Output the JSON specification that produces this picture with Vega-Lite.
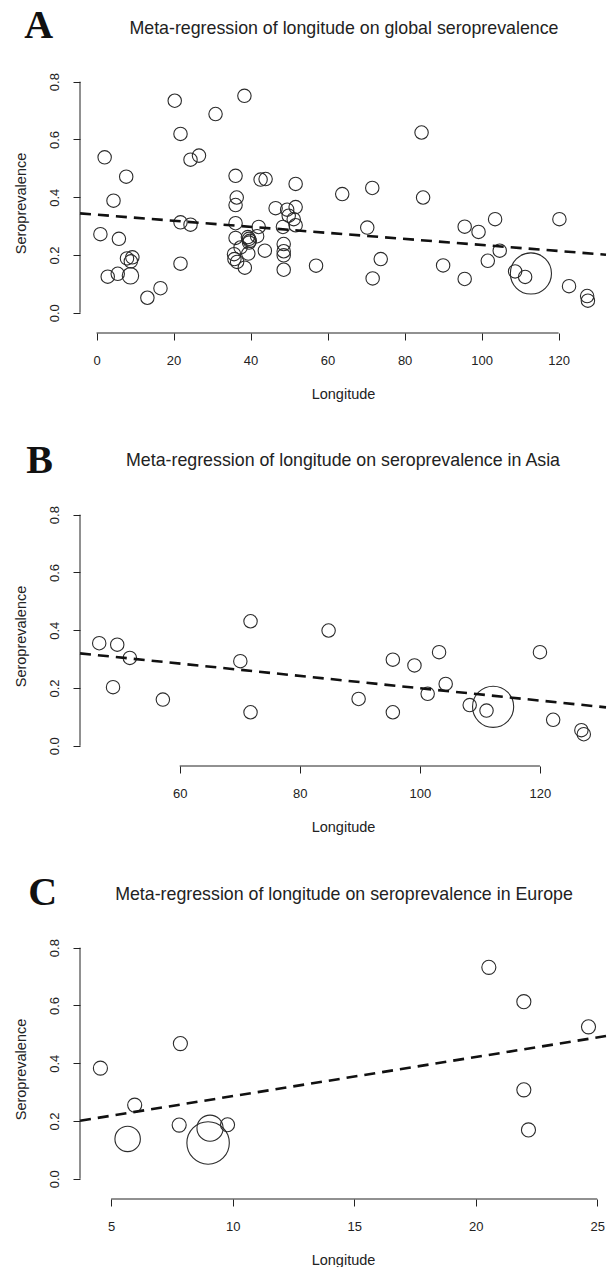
{
  "$schema": "https://vega.github.io/schema/vega-lite/v6.json",
  "background": "white",
  "padding": {"left": 12, "top": 5, "right": 0, "bottom": 0},
  "spacing": 39,
  "config": {
    "view": {"stroke": null},
    "font": "Liberation Sans",
    "axis": {
      "grid": false,
      "domain": false,
      "ticks": true,
      "tickSize": 7,
      "tickColor": "#222",
      "tickWidth": 1,
      "labelFont": "Liberation Sans",
      "labelFontSize": 13,
      "labelColor": "#222",
      "labelFlush": false,
      "labelOverlap": false,
      "titleFont": "Liberation Sans",
      "titleFontSize": 14.5,
      "titleFontWeight": "normal",
      "titleColor": "#222"
    },
    "axisX": {"labelPadding": 14, "titlePadding": 20},
    "axisY": {"labelAngle": -90, "labelPadding": 12, "titlePadding": 20}
  },
  "datasets": {
    "pointsA": [
      {"longitude": 1.0, "seroprevalence": 0.272, "weight": 1},
      {"longitude": 2.1, "seroprevalence": 0.538, "weight": 1},
      {"longitude": 2.9, "seroprevalence": 0.125, "weight": 1},
      {"longitude": 4.4, "seroprevalence": 0.388, "weight": 1},
      {"longitude": 5.5, "seroprevalence": 0.135, "weight": 1},
      {"longitude": 5.8, "seroprevalence": 0.256, "weight": 1},
      {"longitude": 7.7, "seroprevalence": 0.471, "weight": 1},
      {"longitude": 7.9, "seroprevalence": 0.188, "weight": 1},
      {"longitude": 9.3, "seroprevalence": 0.192, "weight": 1},
      {"longitude": 8.9, "seroprevalence": 0.178, "weight": 1},
      {"longitude": 8.8, "seroprevalence": 0.128, "weight": 1.5},
      {"longitude": 13.2, "seroprevalence": 0.052, "weight": 1},
      {"longitude": 16.6, "seroprevalence": 0.085, "weight": 1},
      {"longitude": 20.3, "seroprevalence": 0.734, "weight": 1},
      {"longitude": 21.8, "seroprevalence": 0.619, "weight": 1},
      {"longitude": 21.8, "seroprevalence": 0.313, "weight": 1},
      {"longitude": 21.8, "seroprevalence": 0.170, "weight": 1},
      {"longitude": 24.4, "seroprevalence": 0.305, "weight": 1},
      {"longitude": 24.4, "seroprevalence": 0.530, "weight": 1},
      {"longitude": 26.6, "seroprevalence": 0.544, "weight": 1},
      {"longitude": 30.9, "seroprevalence": 0.688, "weight": 1},
      {"longitude": 38.4, "seroprevalence": 0.751, "weight": 1},
      {"longitude": 36.1, "seroprevalence": 0.474, "weight": 1},
      {"longitude": 42.6, "seroprevalence": 0.461, "weight": 1},
      {"longitude": 43.9, "seroprevalence": 0.463, "weight": 1},
      {"longitude": 51.7, "seroprevalence": 0.446, "weight": 1},
      {"longitude": 36.4, "seroprevalence": 0.399, "weight": 1},
      {"longitude": 36.1, "seroprevalence": 0.373, "weight": 1},
      {"longitude": 46.5, "seroprevalence": 0.362, "weight": 1},
      {"longitude": 49.5, "seroprevalence": 0.357, "weight": 1},
      {"longitude": 51.7, "seroprevalence": 0.366, "weight": 1},
      {"longitude": 49.9, "seroprevalence": 0.336, "weight": 1},
      {"longitude": 51.2, "seroprevalence": 0.324, "weight": 1},
      {"longitude": 51.7, "seroprevalence": 0.303, "weight": 1},
      {"longitude": 36.1, "seroprevalence": 0.310, "weight": 1},
      {"longitude": 42.1, "seroprevalence": 0.297, "weight": 1},
      {"longitude": 48.4, "seroprevalence": 0.297, "weight": 1},
      {"longitude": 36.1, "seroprevalence": 0.259, "weight": 1},
      {"longitude": 39.3, "seroprevalence": 0.262, "weight": 1},
      {"longitude": 39.6, "seroprevalence": 0.256, "weight": 1},
      {"longitude": 39.8, "seroprevalence": 0.249, "weight": 1},
      {"longitude": 39.6, "seroprevalence": 0.243, "weight": 1},
      {"longitude": 41.7, "seroprevalence": 0.265, "weight": 1},
      {"longitude": 48.6, "seroprevalence": 0.238, "weight": 1},
      {"longitude": 48.6, "seroprevalence": 0.213, "weight": 1},
      {"longitude": 43.7, "seroprevalence": 0.215, "weight": 1},
      {"longitude": 39.4, "seroprevalence": 0.205, "weight": 1},
      {"longitude": 35.7, "seroprevalence": 0.203, "weight": 1},
      {"longitude": 35.8, "seroprevalence": 0.186, "weight": 1},
      {"longitude": 36.5, "seroprevalence": 0.176, "weight": 1},
      {"longitude": 38.5, "seroprevalence": 0.156, "weight": 1},
      {"longitude": 48.6, "seroprevalence": 0.199, "weight": 1},
      {"longitude": 48.6, "seroprevalence": 0.149, "weight": 1},
      {"longitude": 37.4, "seroprevalence": 0.226, "weight": 1},
      {"longitude": 57.0, "seroprevalence": 0.163, "weight": 1},
      {"longitude": 63.8, "seroprevalence": 0.411, "weight": 1},
      {"longitude": 71.6, "seroprevalence": 0.432, "weight": 1},
      {"longitude": 70.3, "seroprevalence": 0.295, "weight": 1},
      {"longitude": 73.8, "seroprevalence": 0.186, "weight": 1},
      {"longitude": 71.7, "seroprevalence": 0.119, "weight": 1},
      {"longitude": 84.4, "seroprevalence": 0.624, "weight": 1},
      {"longitude": 84.8, "seroprevalence": 0.399, "weight": 1},
      {"longitude": 90.0, "seroprevalence": 0.164, "weight": 1},
      {"longitude": 95.6, "seroprevalence": 0.298, "weight": 1},
      {"longitude": 99.2, "seroprevalence": 0.280, "weight": 1},
      {"longitude": 103.5, "seroprevalence": 0.324, "weight": 1},
      {"longitude": 95.6, "seroprevalence": 0.117, "weight": 1},
      {"longitude": 101.6, "seroprevalence": 0.180, "weight": 1},
      {"longitude": 104.7, "seroprevalence": 0.215, "weight": 1},
      {"longitude": 108.7, "seroprevalence": 0.143, "weight": 1},
      {"longitude": 111.3, "seroprevalence": 0.124, "weight": 1},
      {"longitude": 112.8, "seroprevalence": 0.136, "weight": 9.4},
      {"longitude": 120.2, "seroprevalence": 0.324, "weight": 1},
      {"longitude": 122.7, "seroprevalence": 0.092, "weight": 1},
      {"longitude": 127.4, "seroprevalence": 0.058, "weight": 1},
      {"longitude": 127.6, "seroprevalence": 0.042, "weight": 1}
    ],
    "pointsB": [
      {"longitude": 46.6, "seroprevalence": 0.355, "weight": 1},
      {"longitude": 49.6, "seroprevalence": 0.350, "weight": 1},
      {"longitude": 51.7, "seroprevalence": 0.304, "weight": 1},
      {"longitude": 48.9, "seroprevalence": 0.203, "weight": 1},
      {"longitude": 57.2, "seroprevalence": 0.160, "weight": 1},
      {"longitude": 71.8, "seroprevalence": 0.431, "weight": 1},
      {"longitude": 70.1, "seroprevalence": 0.293, "weight": 1},
      {"longitude": 71.8, "seroprevalence": 0.116, "weight": 1},
      {"longitude": 84.8, "seroprevalence": 0.399, "weight": 1},
      {"longitude": 89.8, "seroprevalence": 0.162, "weight": 1},
      {"longitude": 95.5, "seroprevalence": 0.298, "weight": 1},
      {"longitude": 99.1, "seroprevalence": 0.278, "weight": 1},
      {"longitude": 103.2, "seroprevalence": 0.324, "weight": 1},
      {"longitude": 95.5, "seroprevalence": 0.116, "weight": 1},
      {"longitude": 101.3, "seroprevalence": 0.180, "weight": 1},
      {"longitude": 104.3, "seroprevalence": 0.214, "weight": 1},
      {"longitude": 108.3, "seroprevalence": 0.141, "weight": 1},
      {"longitude": 111.1, "seroprevalence": 0.122, "weight": 1},
      {"longitude": 112.2, "seroprevalence": 0.135, "weight": 9.4},
      {"longitude": 120.0, "seroprevalence": 0.324, "weight": 1},
      {"longitude": 122.2, "seroprevalence": 0.090, "weight": 1},
      {"longitude": 126.9, "seroprevalence": 0.054, "weight": 1},
      {"longitude": 127.3, "seroprevalence": 0.040, "weight": 1}
    ],
    "pointsC": [
      {"longitude": 20.54, "seroprevalence": 0.732, "weight": 1.1},
      {"longitude": 21.98, "seroprevalence": 0.613, "weight": 1.1},
      {"longitude": 24.64, "seroprevalence": 0.526, "weight": 1.1},
      {"longitude": 7.85, "seroprevalence": 0.468, "weight": 1.1},
      {"longitude": 4.56, "seroprevalence": 0.383, "weight": 1.1},
      {"longitude": 5.97, "seroprevalence": 0.255, "weight": 1.1},
      {"longitude": 5.68, "seroprevalence": 0.138, "weight": 3.6},
      {"longitude": 7.80, "seroprevalence": 0.186, "weight": 1.1},
      {"longitude": 9.07, "seroprevalence": 0.175, "weight": 3.8},
      {"longitude": 8.99, "seroprevalence": 0.124, "weight": 10},
      {"longitude": 9.79, "seroprevalence": 0.187, "weight": 1.1},
      {"longitude": 21.98, "seroprevalence": 0.308, "weight": 1.1},
      {"longitude": 22.17, "seroprevalence": 0.169, "weight": 1.1}
    ],
    "lineA": [
      {"longitude": -4.3, "seroprevalence": 0.344},
      {"longitude": 132.3, "seroprevalence": 0.201}
    ],
    "lineB": [
      {"longitude": 43.4, "seroprevalence": 0.320},
      {"longitude": 131.0, "seroprevalence": 0.133}
    ],
    "lineC": [
      {"longitude": 3.72, "seroprevalence": 0.201},
      {"longitude": 25.36, "seroprevalence": 0.494}
    ],
    "labelA": [{"panel": "A", "heading": "Meta-regression of longitude on global seroprevalence"}],
    "labelB": [{"panel": "B", "heading": "Meta-regression of longitude on seroprevalence in Asia"}],
    "labelC": [{"panel": "C", "heading": "Meta-regression of longitude on seroprevalence in Europe"}]
  },
  "vconcat": [
    {
      "width": 526,
      "height": 260,
      "layer": [
        {
          "data": {"name": "pointsA"},
          "mark": {"type": "point", "shape": "circle", "filled": false, "stroke": "#2b2b2b", "strokeWidth": 1.1, "opacity": 1},
          "encoding": {
            "x": {"field": "longitude", "type": "quantitative", "title": "Longitude", "scale": {"domain": [-4.3, 132.3], "nice": false, "zero": false}, "axis": {"values": [0, 20, 40, 60, 80, 100, 120], "format": "d"}},
            "y": {"field": "seroprevalence", "type": "quantitative", "title": "Seroprevalence", "scale": {"domain": [-0.07, 0.83], "nice": false, "zero": false}, "axis": {"values": [0, 0.2, 0.4, 0.6, 0.8], "format": ".1f"}},
            "size": {"field": "weight", "type": "quantitative", "scale": {"type": "linear", "domain": [0, 10], "range": [0, 1800], "zero": true}, "legend": null}
          }
        },
        {
          "data": {"name": "lineA"},
          "mark": {"type": "line", "strokeDash": [11, 7], "strokeWidth": 2.6, "color": "#111"},
          "encoding": {
            "x": {"field": "longitude", "type": "quantitative", "title": "Longitude"},
            "y": {"field": "seroprevalence", "type": "quantitative", "title": "Seroprevalence"}
          }
        },
        {
          "data": {"name": "labelA"},
          "mark": {"type": "rule", "color": "#222", "strokeWidth": 1},
          "encoding": {"x": {"datum": 0}, "x2": {"datum": 120}, "y": {"datum": -0.07}}
        },
        {
          "data": {"name": "labelA"},
          "mark": {"type": "rule", "color": "#222", "strokeWidth": 1},
          "encoding": {"x": {"datum": -4.3}, "y": {"datum": 0}, "y2": {"datum": 0.8}}
        },
        {
          "data": {"name": "labelA"},
          "mark": {"type": "text", "font": "Liberation Serif", "fontWeight": "bold", "fontSize": 40, "align": "center", "baseline": "middle", "color": "#111"},
          "encoding": {"x": {"datum": -15.0}, "y": {"datum": 0.994}, "text": {"field": "panel"}}
        },
        {
          "data": {"name": "labelA"},
          "mark": {"type": "text", "font": "Liberation Sans", "fontSize": 17.8, "align": "center", "baseline": "middle", "color": "#222"},
          "encoding": {"x": {"datum": 64.25}, "y": {"datum": 0.984}, "text": {"field": "heading"}}
        }
      ]
    },
    {
      "width": 526,
      "height": 260,
      "layer": [
        {
          "data": {"name": "pointsB"},
          "mark": {"type": "point", "shape": "circle", "filled": false, "stroke": "#2b2b2b", "strokeWidth": 1.1, "opacity": 1},
          "encoding": {
            "x": {"field": "longitude", "type": "quantitative", "title": "Longitude", "scale": {"domain": [43.4, 131.0], "nice": false, "zero": false}, "axis": {"values": [60, 80, 100, 120], "format": "d"}},
            "y": {"field": "seroprevalence", "type": "quantitative", "title": "Seroprevalence", "scale": {"domain": [-0.07, 0.83], "nice": false, "zero": false}, "axis": {"values": [0, 0.2, 0.4, 0.6, 0.8], "format": ".1f"}},
            "size": {"field": "weight", "type": "quantitative", "scale": {"type": "linear", "domain": [0, 10], "range": [0, 1800], "zero": true}, "legend": null}
          }
        },
        {
          "data": {"name": "lineB"},
          "mark": {"type": "line", "strokeDash": [11, 7], "strokeWidth": 2.6, "color": "#111"},
          "encoding": {
            "x": {"field": "longitude", "type": "quantitative", "title": "Longitude"},
            "y": {"field": "seroprevalence", "type": "quantitative", "title": "Seroprevalence"}
          }
        },
        {
          "data": {"name": "labelB"},
          "mark": {"type": "rule", "color": "#222", "strokeWidth": 1},
          "encoding": {"x": {"datum": 60}, "x2": {"datum": 120}, "y": {"datum": -0.07}}
        },
        {
          "data": {"name": "labelB"},
          "mark": {"type": "rule", "color": "#222", "strokeWidth": 1},
          "encoding": {"x": {"datum": 43.4}, "y": {"datum": 0}, "y2": {"datum": 0.8}}
        },
        {
          "data": {"name": "labelB"},
          "mark": {"type": "text", "font": "Liberation Serif", "fontWeight": "bold", "fontSize": 40, "align": "center", "baseline": "middle", "color": "#111"},
          "encoding": {"x": {"datum": 36.67}, "y": {"datum": 0.9875}, "text": {"field": "panel"}}
        },
        {
          "data": {"name": "labelB"},
          "mark": {"type": "text", "font": "Liberation Sans", "fontSize": 17.8, "align": "center", "baseline": "middle", "color": "#222"},
          "encoding": {"x": {"datum": 87.2}, "y": {"datum": 0.985}, "text": {"field": "heading"}}
        }
      ]
    },
    {
      "width": 526,
      "height": 260,
      "layer": [
        {
          "data": {"name": "pointsC"},
          "mark": {"type": "point", "shape": "circle", "filled": false, "stroke": "#2b2b2b", "strokeWidth": 1.1, "opacity": 1},
          "encoding": {
            "x": {"field": "longitude", "type": "quantitative", "title": "Longitude", "scale": {"domain": [3.72, 25.36], "nice": false, "zero": false}, "axis": {"values": [5, 10, 15, 20, 25], "format": "d"}},
            "y": {"field": "seroprevalence", "type": "quantitative", "title": "Seroprevalence", "scale": {"domain": [-0.07, 0.83], "nice": false, "zero": false}, "axis": {"values": [0, 0.2, 0.4, 0.6, 0.8], "format": ".1f"}},
            "size": {"field": "weight", "type": "quantitative", "scale": {"type": "linear", "domain": [0, 10], "range": [0, 1800], "zero": true}, "legend": null}
          }
        },
        {
          "data": {"name": "lineC"},
          "mark": {"type": "line", "strokeDash": [11, 7], "strokeWidth": 2.6, "color": "#111"},
          "encoding": {
            "x": {"field": "longitude", "type": "quantitative", "title": "Longitude"},
            "y": {"field": "seroprevalence", "type": "quantitative", "title": "Seroprevalence"}
          }
        },
        {
          "data": {"name": "labelC"},
          "mark": {"type": "rule", "color": "#222", "strokeWidth": 1},
          "encoding": {"x": {"datum": 5}, "x2": {"datum": 25}, "y": {"datum": -0.07}}
        },
        {
          "data": {"name": "labelC"},
          "mark": {"type": "rule", "color": "#222", "strokeWidth": 1},
          "encoding": {"x": {"datum": 3.72}, "y": {"datum": 0}, "y2": {"datum": 0.8}}
        },
        {
          "data": {"name": "labelC"},
          "mark": {"type": "text", "font": "Liberation Serif", "fontWeight": "bold", "fontSize": 40, "align": "center", "baseline": "middle", "color": "#111"},
          "encoding": {"x": {"datum": 2.18}, "y": {"datum": 0.9885}, "text": {"field": "panel"}}
        },
        {
          "data": {"name": "labelC"},
          "mark": {"type": "text", "font": "Liberation Sans", "fontSize": 17.8, "align": "center", "baseline": "middle", "color": "#222"},
          "encoding": {"x": {"datum": 14.58}, "y": {"datum": 0.983}, "text": {"field": "heading"}}
        }
      ]
    }
  ]
}
